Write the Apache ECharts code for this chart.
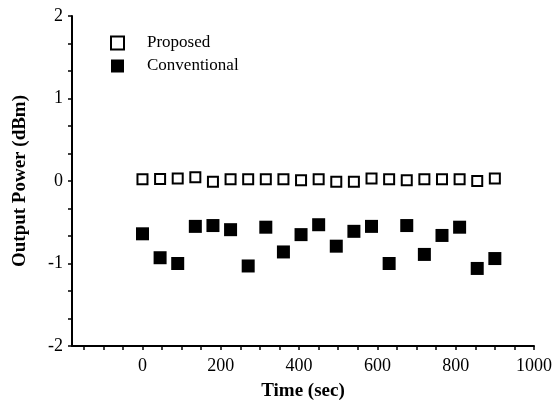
<!DOCTYPE html>
<html><head><meta charset="utf-8">
<script src="https://cdn.jsdelivr.net/npm/echarts@6/dist/echarts.min.js"></script>
<style>html,body{margin:0;padding:0;background:#fff}#c{width:560px;height:406px}</style>
</head><body><div id="c"></div>
<script>
const time = [0,45,90,135,180,225,270,315,360,405,450,495,540,585,630,675,720,765,810,855,900];
const proposed = [0.02,0.025,0.03,0.045,-0.01,0.02,0.02,0.02,0.02,0.01,0.02,-0.01,-0.01,0.03,0.02,0.01,0.02,0.02,0.02,0.0,0.03];
const conventional = [-0.64,-0.93,-1.0,-0.55,-0.54,-0.59,-1.03,-0.56,-0.86,-0.65,-0.53,-0.79,-0.61,-0.55,-1.0,-0.54,-0.89,-0.66,-0.56,-1.06,-0.94];
const xLabels = [0,200,400,600,800,1000];
const xTicks = [-150,-100,-50,0,50,100,150,200,250,300,350,400,450,500,550,600,650,700,750,800,850,900,950,1000];
const seriesNames = ['Proposed','Conventional'];

const font = "'Liberation Serif','Times New Roman',serif";
const chart = echarts.init(document.getElementById('c'), null, {renderer:'canvas'});
const zip = (a,b)=>a.map((v,i)=>[v,b[i]]);
chart.setOption({
  animation:false,
  backgroundColor:'#fff',
  grid:{left:72,right:26,top:16,bottom:58},
  legend:{
    orient:'vertical', left:105, top:29, itemWidth:13, itemHeight:13, itemGap:5,
    data:seriesNames,
    textStyle:{fontFamily:font,fontSize:17,color:'#000',padding:[0,0,0,18],lineHeight:18}
  },
  xAxis:{
    type:'value', min:-180, max:1000,
    name:'Time (sec)', nameLocation:'middle', nameGap:36,
    nameTextStyle:{fontFamily:font,fontSize:19,fontWeight:'bold',color:'#000'},
    axisLine:{show:true,onZero:false,lineStyle:{color:'#000',width:2}},
    axisTick:{show:true,customValues:xTicks,length:4,lineStyle:{color:'#000',width:1.5}},
    axisLabel:{customValues:xLabels,formatter:v=>String(v),fontFamily:font,fontSize:18,color:'#000',margin:11},
    splitLine:{show:false}
  },
  yAxis:{
    type:'value', min:-2, max:2, interval:1,
    name:'Output Power (dBm)', nameLocation:'middle', nameGap:42, nameRotate:90,
    nameTextStyle:{fontFamily:font,fontSize:19,fontWeight:'bold',color:'#000'},
    axisLine:{show:true,onZero:false,lineStyle:{color:'#000',width:2}},
    axisTick:{show:true,length:4,lineStyle:{color:'#000',width:1.5}},
    minorTick:{show:true,splitNumber:3,length:4,lineStyle:{color:'#000',width:1.5}},
    axisLabel:{fontFamily:font,fontSize:18,color:'#000',margin:9},
    splitLine:{show:false}
  },
  series:[
    {name:seriesNames[0],type:'scatter',symbol:'rect',symbolSize:10,data:zip(time,proposed),
     itemStyle:{color:'#fff',borderColor:'#000',borderWidth:2,opacity:1}},
    {name:seriesNames[1],type:'scatter',symbol:'rect',symbolSize:13,data:zip(time,conventional),
     itemStyle:{color:'#000',opacity:1}}
  ]
});
</script></body></html>
